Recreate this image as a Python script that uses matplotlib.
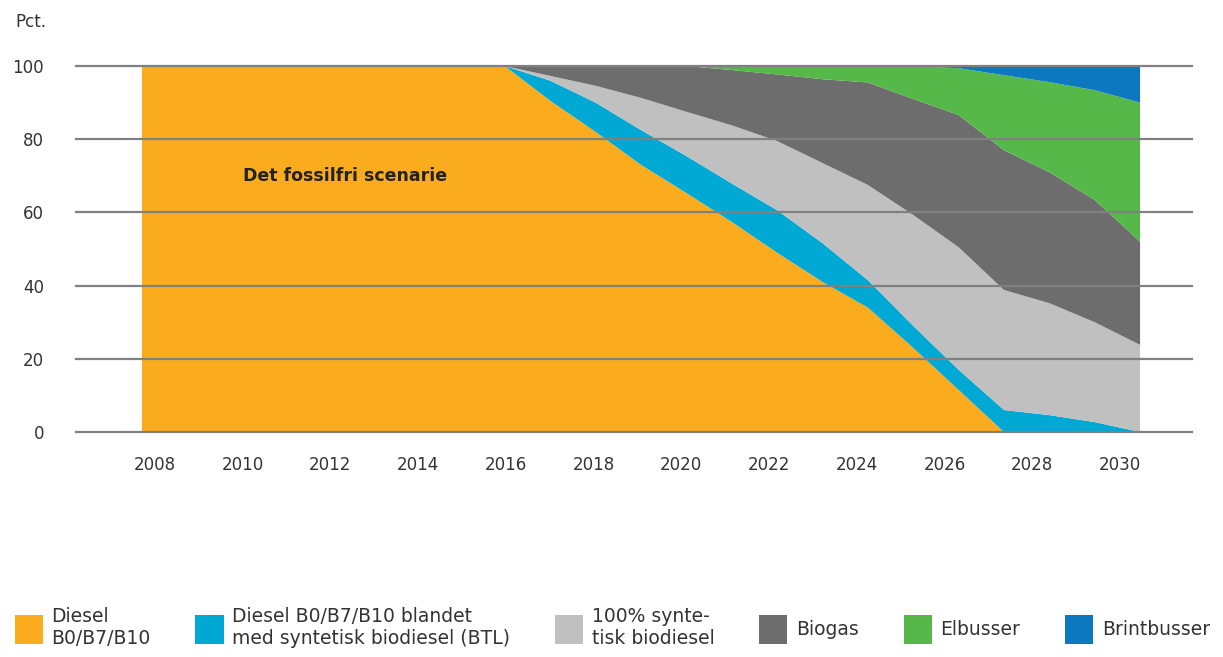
import numpy as np
import matplotlib
matplotlib.use("Agg")
import matplotlib.pyplot as plt

# ===============================
# Data (pct. of bus fleet fuel)
# ===============================
years = list(range(2008, 2031))

diesel = [100, 100, 100, 100, 100, 100, 100, 100, 100,
          90.5, 82, 73, 65.3, 57.4, 49, 41, 34, 23, 11.5, 0, 0, 0, 0]
diesel_btl = [0, 0, 0, 0, 0, 0, 0, 0, 0,
              5.5, 8, 9.5, 10.1, 10.5, 11.6, 10.6, 7.5, 6, 5.5, 6, 4.6, 2.7, 0]
synt_bio = [0, 0, 0, 0, 0, 0, 0, 0, 0,
            1.3, 4.6, 8.8, 12.1, 15.9, 18.9, 21.9, 26, 30.3, 33.5, 32.8, 30.6, 27.3, 23.8]
biogas = [0, 0, 0, 0, 0, 0, 0, 0, 0,
          2.7, 5.4, 8.7, 12.5, 15.1, 18.2, 22.9, 28, 31.7, 36.1, 38.2, 35.8, 33.4, 28.2]
elbusser = [0, 0, 0, 0, 0, 0, 0, 0, 0,
            0, 0, 0, 0, 1.1, 2.3, 3.6, 4.5, 9, 12.8, 20.5, 24.6, 30, 38]
brint = [0, 0, 0, 0, 0, 0, 0, 0, 0,
         0, 0, 0, 0, 0, 0, 0, 0, 0, 0.6, 2.5, 4.4, 6.6, 10]

labels = ["Diesel\nB0/B7/B10",
          "Diesel B0/B7/B10 blandet\nmed syntetisk biodiesel (BTL)",
          "100% synte-\ntisk biodiesel",
          "Biogas",
          "Elbusser",
          "Brintbusser"]
colors = ["#FAAC1E", "#00A8D4", "#C0C0C0", "#6D6D6D", "#56B849", "#0B78C0"]

tick_years = list(range(2008, 2031, 2))
y_ticks = [0, 20, 40, 60, 80, 100]

txt_col = "#333333"

# ===============================
# Figure
# ===============================
fig = plt.figure(figsize=(12.23, 6.57), dpi=100)
ax = fig.add_axes([0.0621, 0.3425, 0.9126, 0.5570])

ax.stackplot(years, diesel, diesel_btl, synt_bio, biogas, elbusser, brint,
             colors=colors, labels=labels, linewidth=0)

ax.set_xlim(2006.545, 2031.146)
ax.set_ylim(0, 100)
ax.set_yticks(y_ticks)
ax.set_axisbelow(False)
ax.yaxis.grid(True, color="#808080", linewidth=1.6)
for gl in ax.get_ygridlines():
    gl.set_clip_on(False)
ax.tick_params(axis="y", length=0, pad=23, labelsize=12, labelcolor=txt_col)
ax.set_xticks([])
for s in ax.spines.values():
    s.set_visible(False)

# year labels sit on a slightly different scale in the original
ax2 = ax.twiny()
ax2.set_xlim(2006.199, 2031.642)
ax2.set_xticks(tick_years)
ax2.xaxis.set_ticks_position("bottom")
ax2.xaxis.set_label_position("bottom")
ax2.tick_params(axis="x", length=0, pad=17, labelsize=12, labelcolor=txt_col)
for s in ax2.spines.values():
    s.set_visible(False)

ax.text(2010.23, 70, "Det fossilfri scenarie", fontsize=12.5, fontweight="bold",
        color="#222222", va="center", ha="left")

fig.text(15 / 1223, 1 - 22 / 657, "Pct.", fontsize=12, color=txt_col,
         va="center", ha="left")

fig.legend(loc="upper left", bbox_to_anchor=(0.012, 1 - 607 / 657), ncol=6,
           frameon=False, fontsize=13.5, handlelength=1.5, handleheight=2.0,
           handletextpad=0.45, columnspacing=2.4, borderpad=0, borderaxespad=0,
           labelcolor=txt_col)

fig.savefig("out.png", dpi=100)
